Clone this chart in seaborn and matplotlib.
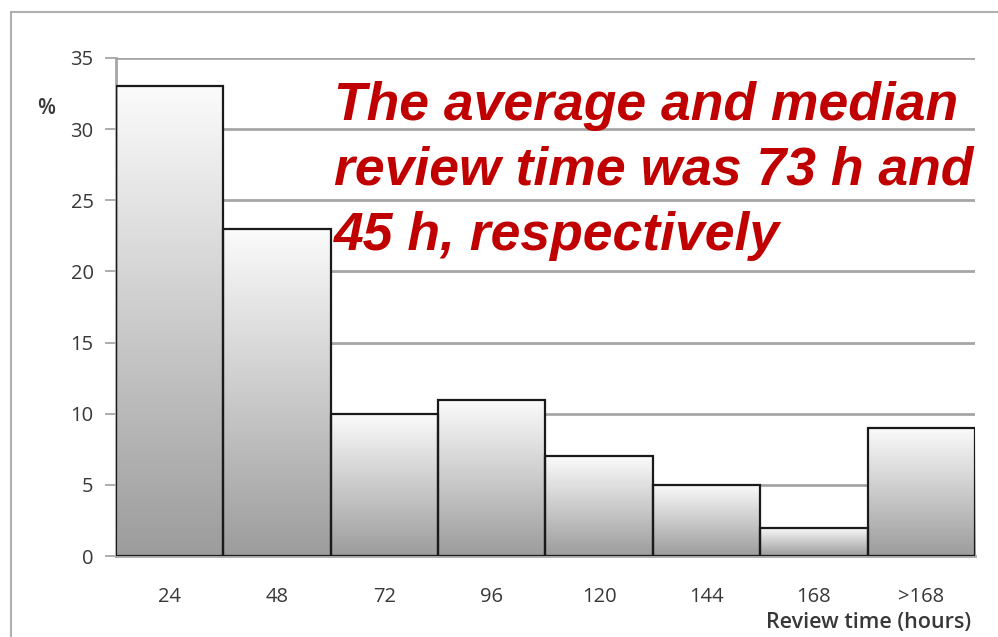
import matplotlib
matplotlib.use("Agg")
import matplotlib.pyplot as plt
import numpy as np
import seaborn as sns
from matplotlib.colors import LinearSegmentedColormap
from matplotlib.patches import Rectangle

# data
bins = ["24", "48", "72", "96", "120", "144", "168", ">168"]
share = [33, 23, 10, 11, 7, 5, 2, 9]
y_ticks = [0, 5, 10, 15, 20, 25, 30, 35]
note_lines = ["The average and median", "review time was 73 h and", "45 h, respectively"]

sns.set_theme(style="white")
plt.rcParams["font.family"] = ["Open Sans", "DejaVu Sans"]

fig = plt.figure(figsize=(9.98, 6.37), dpi=100)
ax = fig.add_axes([0.116, 0.127, 0.861, 0.782])

# outer frame like the pasted slide image
fig.patches.append(Rectangle((0.011, -0.02), 1.2, 1.001, transform=fig.transFigure,
                             fill=False, edgecolor="#b0b0b0", linewidth=1.5))

sns.barplot(x=bins, y=share, order=bins, width=1.0, color="white",
            edgecolor="#1a1a1a", linewidth=1.6, ax=ax, zorder=3)

gray_fade = LinearSegmentedColormap.from_list("fade", ["#9c9c9c", "#fbfbfb"])
grad = np.linspace(0, 1, 256).reshape(-1, 1)
for bar in ax.patches:
    x0, y0 = bar.get_x(), bar.get_y()
    w, h = bar.get_width(), bar.get_height()
    im = ax.imshow(grad, cmap=gray_fade, aspect="auto", origin="lower",
                   extent=[x0, x0 + w, y0, y0 + h], zorder=2.5)
    im.set_clip_path(bar)
    bar.set_facecolor("none")

tick_col = "#383838"
ax.set_xlim(-0.5, len(bins) - 0.5)
ax.set_ylim(0, 35)
ax.set_yticks(y_ticks)
ax.set_yticklabels([str(t) for t in y_ticks], fontsize=14.5, color=tick_col)
ax.set_xticks(range(len(bins)))
ax.set_xticklabels(bins, fontsize=14.5, color=tick_col)
ax.set_xticks(np.arange(-0.5, len(bins), 1.0), minor=True)
ax.tick_params(axis="x", which="major", length=0, pad=22)
ax.tick_params(axis="x", which="minor", length=5, color="#a0a0a0", width=1.2, direction="out")
ax.tick_params(axis="y", length=8, color="#a0a0a0", width=1.2, direction="out", pad=8, left=True)

ax.yaxis.grid(True, color="#a6a6a6", linewidth=2)
ax.set_axisbelow(True)
for side in ["top", "right"]:
    ax.spines[side].set_visible(False)
for side in ["left", "bottom"]:
    ax.spines[side].set_color("#a6a6a6")
    ax.spines[side].set_linewidth(2)
ax.set_xlabel("")
ax.set_ylabel("")

fig.text(0.037, 0.83, "%", fontsize=15, color=tick_col, ha="left", va="center",
         fontweight="semibold")
fig.text(0.973, 0.022, "Review time (hours)", fontsize=15.5, color=tick_col,
         ha="right", va="center", fontweight="semibold")

fig.text(0.335, 0.873, "\n".join(note_lines), family=["Liberation Sans", "DejaVu Sans"],
         fontsize=38.5, fontweight="bold", fontstyle="italic", color="#c00000",
         ha="left", va="top", linespacing=1.38)

fig.savefig("out.png", dpi=100)
